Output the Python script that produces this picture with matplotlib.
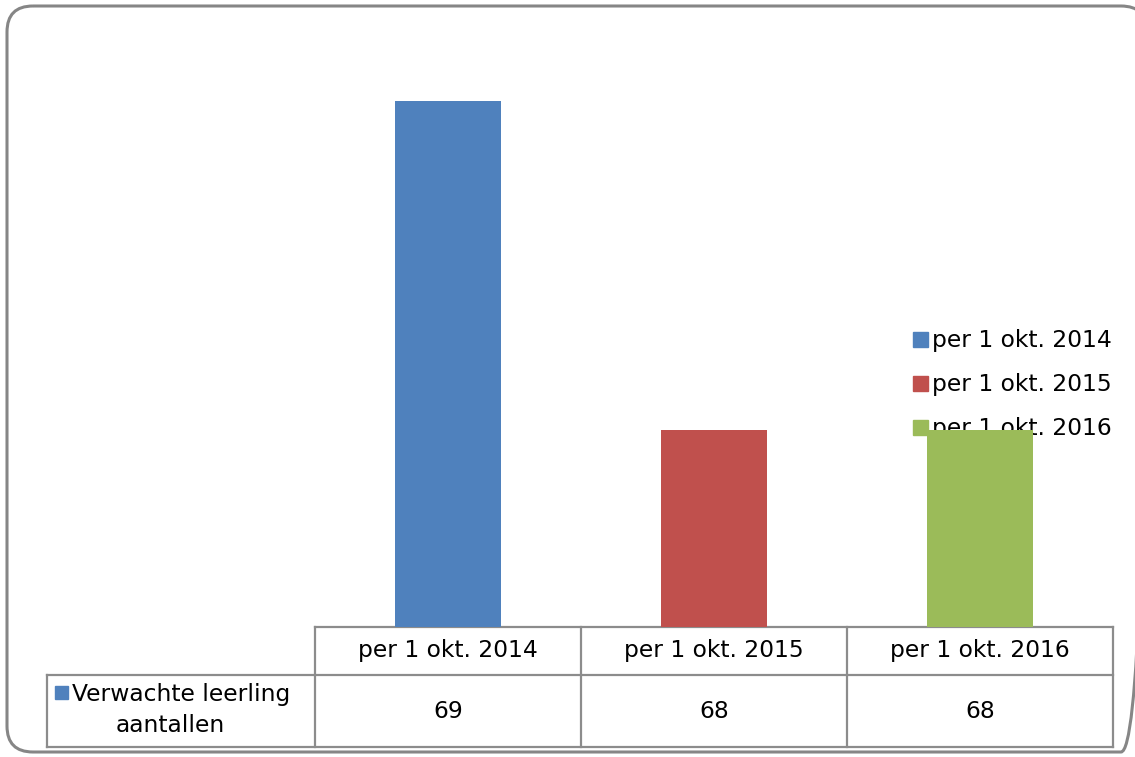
import matplotlib.pyplot as plt
from matplotlib.patches import FancyBboxPatch, Rectangle

categories = ["per 1 okt. 2014", "per 1 okt. 2015", "per 1 okt. 2016"]
values = [69, 68, 68]
series_line1 = "Verwachte leerling"
series_line2 = "aantallen"
colors = ["#4F81BD", "#C0504D", "#9BBB59"]

W, H = 1135, 757
FONT = "DejaVu Sans"
FS = 16.8
GRID = "#8C8C8C"

fig = plt.figure(figsize=(W / 100, H / 100), dpi=100)

# overlay in pixel coordinates for frame and data table
over = fig.add_axes([0, 0, 1, 1])
over.set_xlim(0, W)
over.set_ylim(H, 0)
over.axis("off")
over.add_patch(FancyBboxPatch((7, 6), 1140, 746, boxstyle="round,pad=0,rounding_size=26",
                              fill=False, edgecolor="#868686", linewidth=2.2))

# plot area
left, right, bottom, top = 315, 1113, 627, 35
ax = fig.add_axes([left / W, 1 - bottom / H, (right - left) / W, (bottom - top) / H])
x = range(len(categories))
ax.bar(x, values, width=0.40, color=colors, zorder=2)
ax.set_xlim(-0.5, len(categories) - 0.5)
ax.set_ylim(67.4, 69.2)
ax.axis("off")

# legend
for i, (cat, c) in enumerate(zip(categories, colors)):
    yy = 340 + i * 44
    over.add_patch(Rectangle((913, yy - 8), 15, 15, color=c, zorder=1))
    over.text(932, yy, cat, ha="left", va="center", family=FONT, fontsize=FS, zorder=3)

# data table
col_w = (right - left) / len(categories)
row1 = (627, 675)
row2 = (675, 747)
lw = 1.6
for i in range(len(categories) + 1):
    xi = left + i * col_w
    over.plot([xi, xi], [row1[0], row2[1]], color=GRID, lw=lw)
over.plot([left, right], [row1[0], row1[0]], color=GRID, lw=lw)
over.plot([47, right], [row1[1], row1[1]], color=GRID, lw=lw)
over.plot([47, right], [row2[1], row2[1]], color=GRID, lw=lw)
over.plot([47, 47], [row2[0], row2[1]], color=GRID, lw=lw)

for i, (cat, val) in enumerate(zip(categories, values)):
    cx = left + (i + 0.5) * col_w
    over.text(cx, sum(row1) / 2, cat, ha="center", va="center", family=FONT, fontsize=FS)
    over.text(cx, sum(row2) / 2, str(val), ha="center", va="center", family=FONT, fontsize=FS)

over.add_patch(Rectangle((55, 686), 13, 13, color=colors[0]))
over.text(72, 694, series_line1, ha="left", va="center", family=FONT, fontsize=FS)
over.text(170, 726, series_line2, ha="center", va="center", family=FONT, fontsize=FS)

fig.savefig("out.png", dpi=100)
